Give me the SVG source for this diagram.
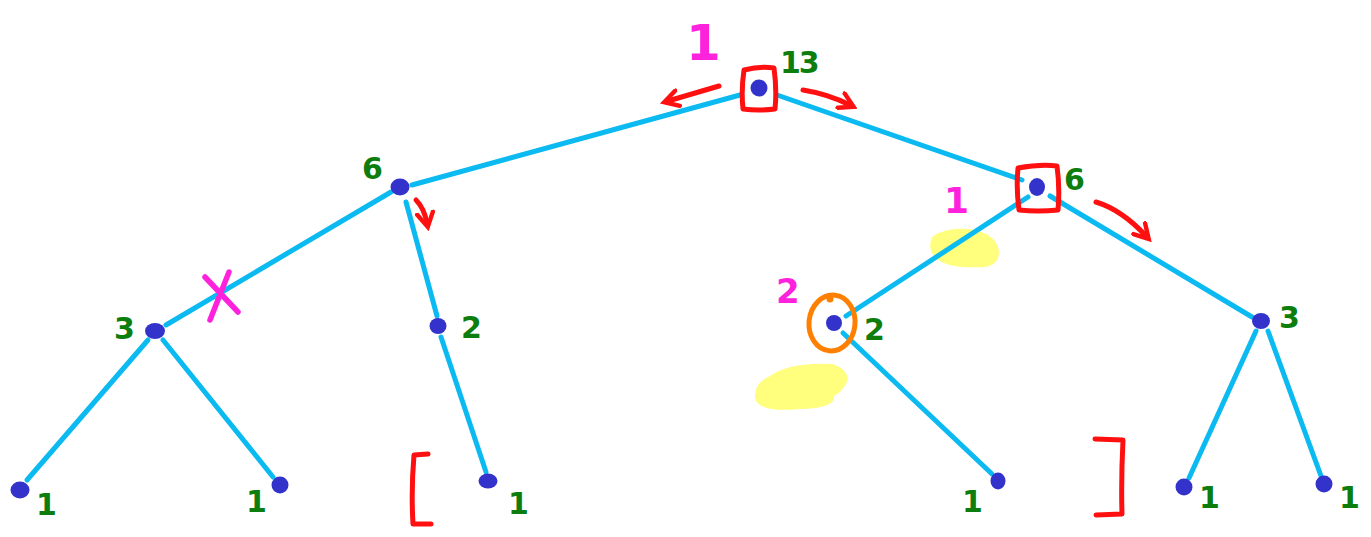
<svg xmlns="http://www.w3.org/2000/svg" width="1371" height="537" viewBox="0 0 1371 537">
<style>
.e{stroke:#0abaf0;stroke-width:5;stroke-linecap:round;fill:none}
.n{fill:#3333cc}
.g{fill:#0d7d0d;font-family:"DejaVu Sans",sans-serif;font-weight:bold;font-size:30px}
.m{fill:#ff22dd;font-family:"DejaVu Sans",sans-serif;font-weight:bold}
.r{stroke:#ff1010;stroke-width:5;fill:none;stroke-linecap:round;stroke-linejoin:round}
.y{fill:#ffff66;opacity:0.85}
</style>
<defs>
<marker id="ah" viewBox="0 0 10 10" refX="6" refY="5" markerWidth="4" markerHeight="4" orient="auto"><path d="M1,1 L8,5 L1,9" fill="none" stroke="#ff1010" stroke-width="2.2" stroke-linecap="round"/></marker>
</defs>
<g id="highlights">
<path class="y" d="M933,236 Q950,226 975,230 Q999,236 999,254 Q997,269 975,267 Q952,269 936,259 Q926,248 933,236Z"/>
<path class="y" d="M770,376 Q790,362 832,364 Q850,370 847,382 Q842,392 834,396 Q836,408 800,409 Q758,413 755,398 Q754,383 770,376Z"/>
</g>
<g id="connectors">
<line class="e" x1="740" y1="95" x2="412" y2="185"/>
<line class="e" x1="777" y1="95" x2="1022" y2="180"/>
<line class="e" x1="391" y1="192" x2="166" y2="325"/>
<line class="e" x1="406" y1="202" x2="437" y2="316"/>
<line class="e" x1="1028" y1="197" x2="846" y2="316"/>
<line class="e" x1="1050" y1="196" x2="1252" y2="317"/>
<line class="e" x1="148" y1="340" x2="27" y2="480"/>
<line class="e" x1="163" y1="340" x2="273" y2="477"/>
<line class="e" x1="441" y1="337" x2="486" y2="472"/>
<line class="e" x1="843" y1="333" x2="992" y2="474"/>
<line class="e" x1="1256" y1="331" x2="1189" y2="478"/>
<line class="e" x1="1268" y1="331" x2="1321" y2="476"/>
</g>
<g id="n13"><circle class="n" cx="759" cy="88" r="8.5"/><text class="g" x="780" y="73" letter-spacing="-2">13</text></g>
<g id="nL6"><ellipse class="n" cx="400" cy="187" rx="9.5" ry="8.5"/><text class="g" x="362" y="179">6</text></g>
<g id="nR6"><ellipse class="n" cx="1037" cy="187" rx="8" ry="9"/><text class="g" x="1064" y="190">6</text></g>
<g id="nL3"><ellipse class="n" cx="155" cy="331" rx="10" ry="8"/><text class="g" x="114" y="339">3</text></g>
<g id="nL2"><ellipse class="n" cx="438" cy="326" rx="8.5" ry="8"/><text class="g" x="461" y="338">2</text></g>
<g id="nR2"><ellipse class="n" cx="834" cy="323" rx="8" ry="8"/><text class="g" x="864" y="340">2</text></g>
<g id="nR3"><ellipse class="n" cx="1261" cy="321" rx="9" ry="8"/><text class="g" x="1279" y="328">3</text></g>
<g id="leaf1"><ellipse class="n" cx="20" cy="490" rx="9.5" ry="8.5"/><text class="g" x="36" y="515">1</text></g>
<g id="leaf2"><ellipse class="n" cx="280" cy="485" rx="8.5" ry="8.5"/><text class="g" x="246" y="512">1</text></g>
<g id="leaf3"><ellipse class="n" cx="488" cy="481" rx="9.5" ry="7.5"/><text class="g" x="508" y="514">1</text></g>
<g id="leaf4"><ellipse class="n" cx="998" cy="481" rx="7.5" ry="8.5"/><text class="g" x="962" y="512">1</text></g>
<g id="leaf5"><ellipse class="n" cx="1184" cy="487" rx="8.5" ry="8.5"/><text class="g" x="1199" y="508">1</text></g>
<g id="leaf6"><ellipse class="n" cx="1324" cy="484" rx="8.5" ry="8.5"/><text class="g" x="1339" y="508">1</text></g>
<g id="annotations">
<path class="r" d="M744,70 Q760,66 774,68 Q777,90 775,109 Q758,111 743,109 Q741,90 744,70Z"/>
<path class="r" d="M1018,168 Q1040,164 1057,166 Q1060,188 1058,210 Q1038,212 1019,210 Q1016,188 1018,168Z"/>
<path class="r" d="M719,86 L668,101" marker-end="url(#ah)"/>
<path class="r" d="M803,90 Q828,94 850,105" marker-end="url(#ah)"/>
<path class="r" d="M416,200 Q424,208 427,223" marker-end="url(#ah)"/>
<path class="r" d="M1096,202 Q1122,210 1146,236" marker-end="url(#ah)"/>
<path class="r" d="M428,454 L414,455 Q411,490 413,524 L431,524"/>
<path class="r" d="M1095,439 L1123,440 Q1121,480 1122,514 L1096,515"/>
<ellipse cx="832" cy="323" rx="23" ry="28" fill="none" stroke="#ff8000" stroke-width="5" transform="rotate(6 832 323)"/>
<circle cx="830" cy="299" r="3.5" fill="#ff8000"/>
<path d="M205,277 L238,312 M229,272 L210,320" stroke="#ff22dd" stroke-width="5.5" stroke-linecap="round" fill="none"/>
<text class="m" x="686" y="60" font-size="50">1</text>
<text class="m" x="944" y="213" font-size="36">1</text>
<text class="m" x="776" y="303" font-size="34">2</text>
</g>
</svg>
